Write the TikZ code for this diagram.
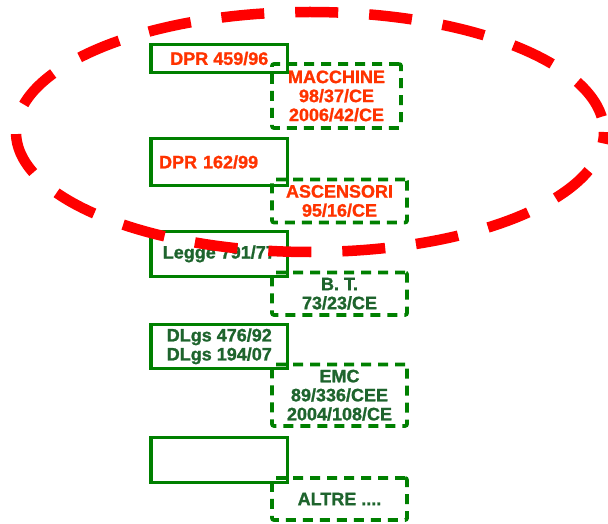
\documentclass[tikz,border=0pt]{standalone}
\usepackage{fontspec}
\setsansfont{Liberation Sans}[BoldFeatures={FakeBold=1.2}]
\usetikzlibrary{shapes.geometric}
\definecolor{lawgreen}{RGB}{0,128,0}
\definecolor{eured}{RGB}{255,51,0}
\definecolor{deepgreen}{RGB}{30,100,45}
\definecolor{ringred}{RGB}{255,0,0}
\tikzset{
  law/.style={draw=lawgreen,line width=3.2pt,minimum width=136.5pt,inner sep=0pt,
    font=\sffamily\bfseries\fontsize{18}{19}\selectfont,align=center},
  directive/.style={draw=lawgreen,line width=3.8pt,dash pattern=on 10pt off 7pt,
    rounded corners=2pt,minimum width=135pt,inner sep=0pt,
    font=\sffamily\bfseries\fontsize{18}{19}\selectfont,align=center},
  ring/.style={ellipse,draw=ringred,line width=10.5pt,dash pattern=on 43pt off 31pt,
    dash phase=58.5pt,inner sep=0pt},
}

\begin{document}
\begin{tikzpicture}[x=1pt,y=-1pt]
  \useasboundingbox (0,0) rectangle (608,524);
  % national laws
  \node[law,text=eured,minimum height=27.4pt] (dpr1) at (219.3,58.5) {DPR 459/96};
  \node[law,text=eured,minimum height=46.4pt,text width=120.5pt,align=left,inner xsep=8pt]
    (dpr2) at (219.3,162) {DPR 162/99};
  \node[law,text=deepgreen,minimum height=44.7pt] (legge) at (219.3,253.9) {Legge 791/77};
  \node[law,text=deepgreen,minimum height=44.3pt] (dlgs) at (219.3,346.3) {DLgs 476/92\\DLgs 194/07};
  \node[law,minimum height=45pt] (other) at (219.3,460) {};
  % directives
  \node[directive,text=eured,minimum width=129pt,minimum height=64pt] (mac) at (336.5,96) {MACCHINE\\98/37/CE\\2006/42/CE};
  \node[directive,text=eured,minimum height=43pt] (asc) at (339.5,201) {ASCENSORI\\95/16/CE};
  \node[directive,text=deepgreen,minimum height=42.5pt] (bt) at (339.5,293.7) {B. T.\\73/23/CE};
  \node[directive,text=deepgreen,minimum height=61.5pt] (emc) at (339.5,395.2) {EMC\\89/336/CEE\\2004/108/CE};
  \node[directive,text=deepgreen,minimum height=42pt] (altre) at (339.5,499) {ALTRE ....};
  % highlighted group
  \node[ring,minimum width=588pt,minimum height=240pt] (zone) at (310,132) {};
\end{tikzpicture}
\end{document}
